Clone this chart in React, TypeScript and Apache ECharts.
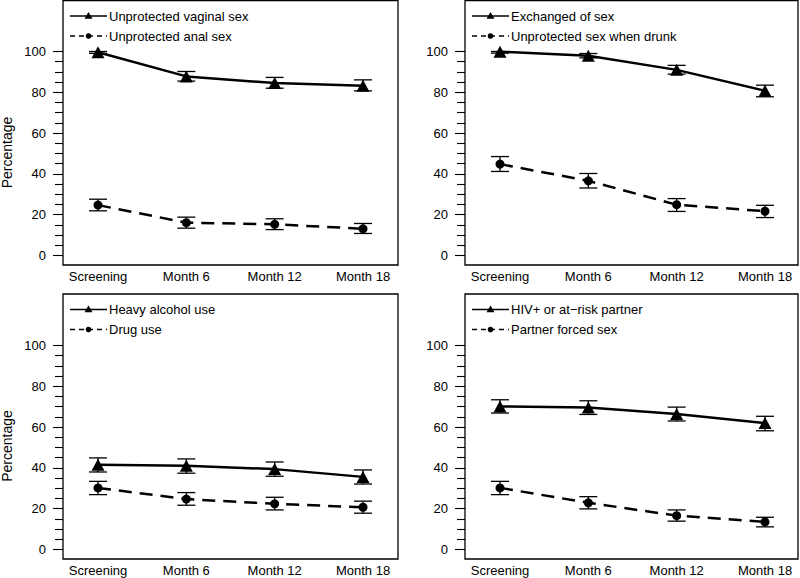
import React, { useEffect, useRef } from "react";
import * as echarts from "echarts";

const categories = ["Screening", "Month 6", "Month 12", "Month 18"];
const yTicks = [0, 20, 40, 60, 80, 100];

const vaginal = [99.6, 87.8, 84.5, 83.2];
const vaginalLo = [99.1, 85.5, 82.0, 80.7];
const vaginalHi = [100, 90.2, 87.3, 86.1];
const anal = [24.7, 16.1, 15.3, 13.1];
const analLo = [21.9, 13.4, 12.7, 10.8];
const analHi = [27.6, 18.8, 18.0, 15.7];

const exchanged = [99.9, 97.9, 91.0, 80.8];
const exchangedLo = [99.2, 96.9, 88.9, 77.8];
const exchangedHi = [100, 99.0, 93.2, 83.5];
const drunk = [44.8, 36.6, 24.9, 21.7];
const drunkLo = [41.2, 33.1, 21.6, 18.6];
const drunkHi = [48.5, 40.2, 27.9, 24.6];

const alcohol = [41.5, 41.0, 39.4, 35.6];
const alcoholLo = [38.0, 37.4, 35.9, 32.1];
const alcoholHi = [44.9, 44.4, 42.9, 39.0];
const drug = [30.2, 24.7, 22.4, 20.7];
const drugLo = [26.9, 21.7, 19.4, 17.8];
const drugHi = [33.4, 27.9, 25.6, 23.7];

const hiv = [70.1, 69.6, 66.4, 62.0];
const hivLo = [66.9, 66.2, 63.0, 58.2];
const hivHi = [73.4, 72.9, 69.8, 65.3];
const forced = [30.2, 22.9, 16.6, 13.5];
const forcedLo = [26.9, 19.9, 13.9, 11.1];
const forcedHi = [33.4, 25.9, 19.4, 15.8];

const panels = [
  {
    solid: { name: "Unprotected vaginal sex", v: vaginal, lo: vaginalLo, hi: vaginalHi },
    dashed: { name: "Unprotected anal sex", v: anal, lo: analLo, hi: analHi },
  },
  {
    solid: { name: "Exchanged of sex", v: exchanged, lo: exchangedLo, hi: exchangedHi },
    dashed: { name: "Unprotected sex when drunk", v: drunk, lo: drunkLo, hi: drunkHi },
  },
  {
    solid: { name: "Heavy alcohol use", v: alcohol, lo: alcoholLo, hi: alcoholHi },
    dashed: { name: "Drug use", v: drug, lo: drugLo, hi: drugHi },
  },
  {
    solid: { name: "HIV+ or at\u2212risk partner", v: hiv, lo: hivLo, hi: hivHi },
    dashed: { name: "Partner forced sex", v: forced, lo: forcedLo, hi: forcedHi },
  },
];

// layout (pixels)
const layout = [
  { box: [63, 0.5, 335, 264.5], plot: [98, 51.5, 265, 204], showYLabel: true },
  { box: [465, 0.5, 333, 264.5], plot: [500, 51.5, 265, 204], showYLabel: false },
  { box: [63, 294, 335, 265], plot: [98, 345.5, 265, 204], showYLabel: true },
  { box: [465, 294, 333, 265], plot: [500, 345.5, 265, 204], showYLabel: false },
];

const FONT = "Liberation Sans, Arial, Helvetica, sans-serif";
const DASH = [13, 8];

function errorBarRender(params: any, api: any) {
  const x = api.value(0);
  const lo = api.coord([x, api.value(1)]);
  const hi = api.coord([x, api.value(2)]);
  const w = 9;
  const style = { stroke: "#000", lineWidth: 1.3 };
  return {
    type: "group",
    children: [
      { type: "line", shape: { x1: lo[0], y1: lo[1], x2: hi[0], y2: hi[1] }, style },
      { type: "line", shape: { x1: lo[0] - w, y1: lo[1], x2: lo[0] + w, y2: lo[1] }, style },
      { type: "line", shape: { x1: hi[0] - w, y1: hi[1], x2: hi[0] + w, y2: hi[1] }, style },
    ],
  };
}

export default function App() {
  const ref = useRef<HTMLDivElement>(null);

  useEffect(() => {
    if (!ref.current) return;
    const chart = echarts.init(ref.current, null, { renderer: "svg" });

    const grid: any[] = [];
    const xAxis: any[] = [];
    const yAxis: any[] = [];
    const series: any[] = [];
    const graphic: any[] = [];

    panels.forEach((p, i) => {
      const L = layout[i];
      const [px, py, pw, ph] = L.plot;
      const [bx, by, bw, bh] = L.box;
      grid.push({ left: px, top: py, width: pw, height: ph, containLabel: false });
      xAxis.push({
        type: "category",
        gridIndex: i,
        data: categories,
        boundaryGap: false,
        offset: by + bh - (py + ph),
        axisLine: { show: false },
        axisTick: { show: false },
        splitLine: { show: false },
        axisLabel: { color: "#000", fontSize: 13, fontFamily: FONT, margin: 5, interval: 0 },
      });
      yAxis.push({
        type: "value",
        gridIndex: i,
        min: yTicks[0],
        max: yTicks[yTicks.length - 1],
        interval: yTicks[1] - yTicks[0],
        offset: px - bx,
        axisLine: { show: false },
        axisTick: { show: true, length: 10, lineStyle: { color: "#000", width: 1.1 } },
        minorTick: { show: true, splitNumber: 4, length: 8, lineStyle: { color: "#000", width: 1.1 } },
        splitLine: { show: false },
        axisLabel: { color: "#000", fontSize: 13, fontFamily: FONT, margin: 17 },
      });

      const defs = [
        { d: p.solid, symbol: "triangle", size: [13, 12], type: "solid" as any },
        { d: p.dashed, symbol: "circle", size: 9, type: DASH as any },
      ];
      defs.forEach((s) => {
        series.push({
          type: "custom",
          name: s.d.name + " CI",
          xAxisIndex: i,
          yAxisIndex: i,
          renderItem: errorBarRender,
          data: s.d.v.map((_, k) => [k, s.d.lo[k], s.d.hi[k]]),
          z: 3,
          silent: true,
        });
        series.push({
          type: "line",
          name: s.d.name,
          xAxisIndex: i,
          yAxisIndex: i,
          data: s.d.v,
          symbol: s.symbol,
          symbolSize: s.size,
          showSymbol: true,
          clip: false,
          lineStyle: { color: "#000", width: 2.5, type: s.type },
          itemStyle: { color: "#000" },
          z: 4,
        });
      });

      // box
      graphic.push({
        type: "rect",
        shape: { x: bx, y: by, width: bw, height: bh },
        style: { fill: "none", stroke: "#000", lineWidth: 1.3 },
        z: 10,
      });

      // legend
      const lx0 = bx + 7;
      const lx1 = bx + 44;
      const ly = [by + 15.5, by + 35.5];
      const names = [p.solid.name, p.dashed.name];
      names.forEach((nm, k) => {
        const y = ly[k];
        graphic.push({
          type: "line",
          shape: { x1: lx0, y1: y, x2: lx1, y2: y },
          style: { stroke: "#000", lineWidth: 1.3, lineDash: k === 0 ? null : [5, 4] },
          z: 10,
        });
        const cx = (lx0 + lx1) / 2;
        if (k === 0) {
          graphic.push({
            type: "polygon",
            shape: { points: [[cx, y - 4], [cx - 4, y + 2.8], [cx + 4, y + 2.8]] },
            style: { fill: "#000" },
            z: 10,
          });
        } else {
          graphic.push({
            type: "circle",
            shape: { cx, cy: y, r: 2.8 },
            style: { fill: "#000" },
            z: 10,
          });
        }
        graphic.push({
          type: "text",
          x: lx1 + 2,
          y,
          style: {
            text: nm,
            fill: "#000",
            font: `13px ${FONT}`,
            textAlign: "left",
            textVerticalAlign: "middle",
          },
          z: 10,
        });
      });

      if (L.showYLabel) {
        graphic.push({
          type: "text",
          x: 7,
          y: by + 152,
          rotation: Math.PI / 2,
          style: {
            text: "Percentage",
            fill: "#000",
            font: `14px ${FONT}`,
            textAlign: "center",
            textVerticalAlign: "middle",
          },
          z: 10,
        });
      }
    });

    chart.setOption({
      animation: false,
      backgroundColor: "#fff",
      textStyle: { fontFamily: FONT },
      grid,
      xAxis,
      yAxis,
      series,
      graphic,
    });

    return () => chart.dispose();
  }, []);

  return (
    <div
      ref={ref}
      style={{ position: "fixed", left: 0, top: 0, width: 800, height: 578, background: "#fff" }}
    />
  );
}
